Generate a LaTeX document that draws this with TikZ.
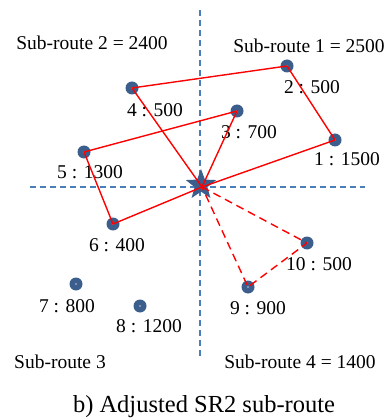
\documentclass[tikz,border=0pt]{standalone}
\usepackage{fontspec}
\setmainfont{Liberation Serif}
\usepackage{xcolor}
\usetikzlibrary{shapes.geometric}
\definecolor{routeaxis}{HTML}{4A7EBB}
\definecolor{routedot}{HTML}{3B5E8C}
\definecolor{routered}{HTML}{FF0000}
\tikzstyle{axis} = [dashed, dash pattern=on 6pt off 4pt, line width=1.3pt, routeaxis]
\tikzstyle{cust} = [circle, fill=routedot, minimum size=13pt, inner sep=0pt]
\tikzstyle{depot} = [star, star points=5, star point ratio=2.4, fill=routedot, minimum size=32pt, inner sep=0pt]
\tikzstyle{route} = [line width=1.4pt, routered]
\tikzstyle{routedash} = [route, dash pattern=on 8pt off 5pt]
\tikzstyle{lbl} = [font=\fontsize{19.5}{22}\selectfont, inner sep=0pt]

\begin{document}
\begin{tikzpicture}[x=1pt, y=-1pt]
\useasboundingbox (0,0) rectangle (387,419);
% axes
\coordinate (vtop) at (200,10);
\coordinate (vbot) at (200,357);
\coordinate (hleft) at (30,187);
\coordinate (hright) at (365,187);
\draw[axis] (vtop) -- (vbot);
\draw[axis] (hleft) -- (hright);
% depot and customers
\node[depot] (dep) at (201,185) {};
\coordinate (hub) at (202,187);
\node[cust] (c1) at (335,140) {};
\node[cust] (c2) at (287,66) {};
\node[cust] (c3) at (237,111) {};
\node[cust] (c4) at (132,88) {};
\node[cust] (c5) at (84,152) {};
\node[cust] (c6) at (113,224) {};
\node[cust] (c7) at (76,284) {};
\node[cust] (c8) at (140,306) {};
\node[cust] (c9) at (248,287) {};
\node[cust] (c10) at (307,243) {};
\foreach \c in {c1,c2,c3,c4,c5,c6,c7,c8,c9,c10} {
  \fill[routedot!55!white] (\c.center) circle (1.2pt);
}
% demands
\node[lbl] (l1) at (347,159) {1 : 1500};
\node[lbl] (l2) at (312,87) {2 : 500};
\node[lbl] (l3) at (249,132) {3 : 700};
\node[lbl] (l4) at (155,110) {4 : 500};
\node[lbl] (l5) at (90,172) {5 : 1300};
\node[lbl] (l6) at (117,245) {6 : 400};
\node[lbl] (l7) at (67,306) {7 : 800};
\node[lbl] (l8) at (149,326) {8 : 1200};
\node[lbl] (l9) at (258,308) {9 : 900};
\node[lbl] (l10) at (319,264) {10 : 500};
% sub-routes
\draw[route] (hub) -- (c1.center) -- (c2.center) -- (c4.center) -- (hub);
\draw[route] (hub) -- (c3.center) -- (c5.center) -- (c6.center) -- (hub);
\draw[routedash] (hub) -- (c10.center) -- (c9.center) -- (hub);
% quadrant titles
\node[lbl] (sr2) at (92,43) {Sub-route 2 = 2400};
\node[lbl] (sr1) at (309,46) {Sub-route 1 = 2500};
\node[lbl] (sr3) at (60,362) {Sub-route 3};
\node[lbl] (sr4) at (300,362) {Sub-route 4 = 1400};
\node[font=\fontsize{24.5}{28}\selectfont, inner sep=0pt] (cap) at (204,407) {b) Adjusted SR2 sub-route};
\end{tikzpicture}
\end{document}
